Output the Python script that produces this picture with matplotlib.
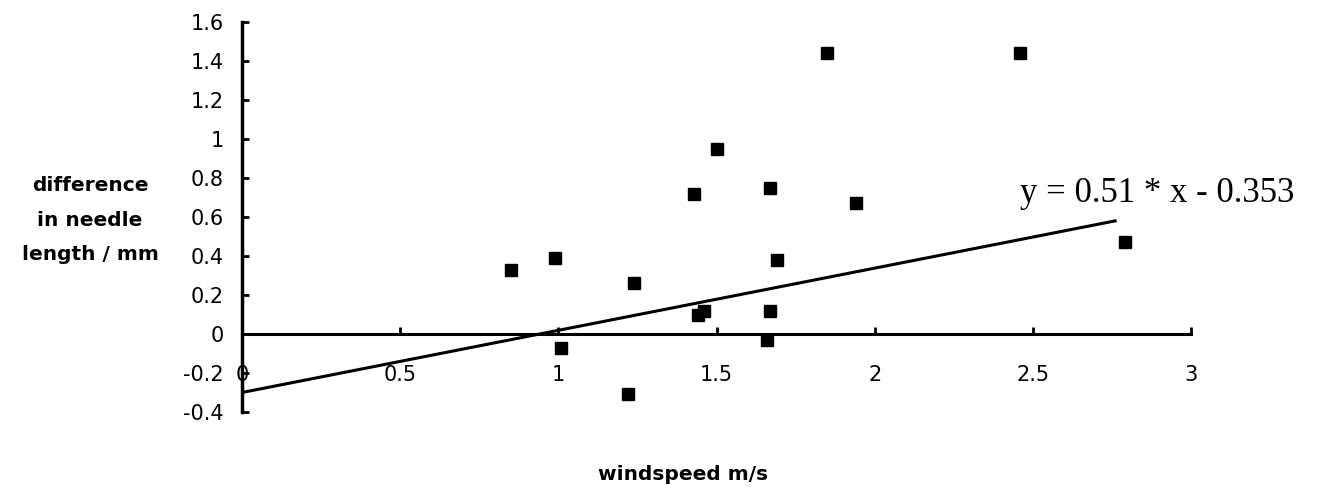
import matplotlib; matplotlib.use("Agg")
import matplotlib.pyplot as plt

# windspeed (m/s) vs difference in needle length (mm)
windspeed = [0.85, 0.99, 1.24, 1.01, 1.22, 1.50, 1.43, 1.67, 1.94, 1.69,
             1.44, 1.46, 1.67, 1.66, 1.85, 2.46, 2.79]
diff_len = [0.33, 0.39, 0.26, -0.07, -0.31, 0.95, 0.72, 0.75, 0.67, 0.38,
            0.10, 0.12, 0.12, -0.03, 1.44, 1.44, 0.47]
# fitted line as drawn on the chart
fit_x = [0.0, 2.76]
fit_y = [-0.30, 0.58]
x_ticks = [0, 0.5, 1, 1.5, 2, 2.5, 3]
x_labels = ["0", "0.5", "1", "1.5", "2", "2.5", "3"]
y_ticks = [-0.4, -0.2, 0, 0.2, 0.4, 0.6, 0.8, 1, 1.2, 1.4, 1.6]
y_labels = ["-0.4", "-0.2", "0", "0.2", "0.4", "0.6", "0.8", "1", "1.2", "1.4", "1.6"]

W, H = 1324, 495
fig = plt.figure(figsize=(W / 100, H / 100), dpi=100, facecolor="white")
ax = fig.add_axes([242 / W, (H - 412) / H, (1191 - 242) / W, (412 - 22) / H])
ax.set_xlim(0, 3)
ax.set_ylim(-0.4, 1.6)

ax.plot(fit_x, fit_y, color="black", lw=2.2, zorder=2)
ax.plot(windspeed, diff_len, ls="none", marker="s", ms=9, color="black", zorder=3)

for s in ("top", "right"):
    ax.spines[s].set_visible(False)
ax.spines["bottom"].set_position(("data", 0))
ax.spines["left"].set_linewidth(2.5)
ax.spines["bottom"].set_linewidth(2.2)

ax.set_xticks(x_ticks)
ax.set_xticklabels(x_labels)
ax.set_yticks(y_ticks)
ax.set_yticklabels(y_labels)
ax.tick_params(axis="x", direction="in", length=5, width=2, pad=22, labelsize=15)
ax.tick_params(axis="y", direction="in", length=5, width=2, pad=13, labelsize=15)

fig.text(1020 / W, 1 - 193 / H, "y = 0.51 * x - 0.353", family="Liberation Serif",
         fontsize=25, ha="left", va="center")
fig.text(90 / W, 1 - 220 / H, "difference\nin needle\nlength / mm", fontsize=14.5,
         fontweight="bold", ha="center", va="center", multialignment="center",
         linespacing=2.05)
fig.text(683 / W, 1 - 475 / H, "windspeed m/s", fontsize=14.5, fontweight="bold",
         ha="center", va="center")

fig.savefig("out.png", dpi=100, facecolor="white")
